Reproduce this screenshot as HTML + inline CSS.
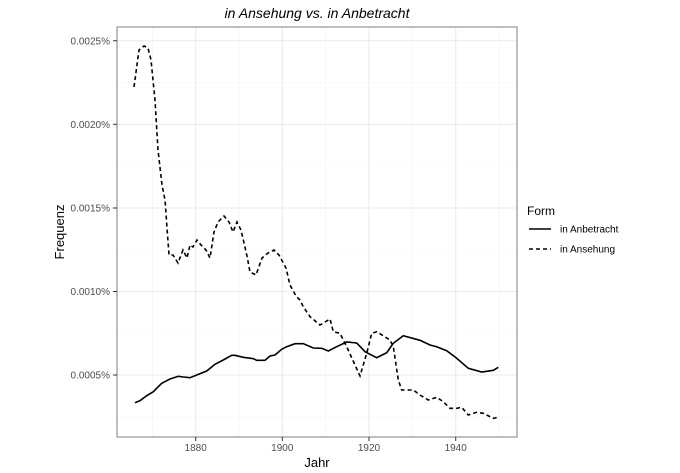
<!DOCTYPE html>
<html><head><style>body{margin:0;background:#fff}svg{display:block}text{font-family:"Liberation Sans",sans-serif}</style></head><body>
<svg width="680" height="473" viewBox="0 0 680 473">
<rect width="680" height="473" fill="#fff"/>
<g stroke="#f2f2f2" stroke-width="0.6">
<line x1="152.4" y1="27" x2="152.4" y2="437"/><line x1="239" y1="27" x2="239" y2="437"/><line x1="325.7" y1="27" x2="325.7" y2="437"/><line x1="412.3" y1="27" x2="412.3" y2="437"/><line x1="499" y1="27" x2="499" y2="437"/>
<line x1="117" y1="82.5" x2="517" y2="82.5"/><line x1="117" y1="166" x2="517" y2="166"/><line x1="117" y1="250" x2="517" y2="250"/><line x1="117" y1="333" x2="517" y2="333"/><line x1="117" y1="417" x2="517" y2="417"/>
</g>
<g stroke="#ebebeb" stroke-width="1.1">
<line x1="195.7" y1="27" x2="195.7" y2="437"/><line x1="282.3" y1="27" x2="282.3" y2="437"/><line x1="369" y1="27" x2="369" y2="437"/><line x1="455.7" y1="27" x2="455.7" y2="437"/>
<line x1="117" y1="40.7" x2="517" y2="40.7"/><line x1="117" y1="124.3" x2="517" y2="124.3"/><line x1="117" y1="208" x2="517" y2="208"/><line x1="117" y1="291.5" x2="517" y2="291.5"/><line x1="117" y1="375" x2="517" y2="375"/>
</g>
<polyline fill="none" stroke="#000" stroke-width="1.6" points="135,402.7 140,400.7 146.7,395.7 153.3,391.7 161.7,383.3 170,379 178.3,376.3 183.3,377 190,377.7 196.7,375 206.7,371 215,364.3 223.3,360 231.7,355.3 235,355.3 243.3,357.3 253.3,358.7 256.7,360.3 265,360.3 270,356 275,355 281.7,349.3 286.7,346.7 295,343.7 303.3,343.7 313.3,348 321.7,348.3 328.3,351 336.7,346.7 346.7,342 356.7,343 365,351.7 376.7,357.7 386.7,352.7 393.3,343.3 403.3,335.7 420,340.3 430,345 436.7,346.7 446.7,350.7 456.7,358.3 468.3,368.3 481.7,372 493.3,370.3 498.3,367.3"/>
<polyline fill="none" stroke="#000" stroke-width="1.6" stroke-dasharray="4,3" points="134,87 139,50 144,46 148,48 151,60 155,100 158,150 162,185 165,200 169,255 173,255 178,263 183,250 187,258 190,245 193,247 197,240 201,245 206,250 210,258 214,232 218,222 224,216 229,222 233,232 237,222 241,230 247,256 250,272 256,275 262,258 268,253 274,250 279,255 286,268 290,285 296,296 300,300 303.3,306.7 310,316.7 320,325 330,319 333.3,331.7 340,333.3 346.7,346.7 360,376 366.7,353.3 371.7,333.3 376.7,331.7 390,340 393.3,346.7 398.3,380 401.7,390 413.3,390 420,395 428.3,400 436.7,397.3 443.3,401.7 450,408.3 456.7,408.3 461.7,407.3 468.3,415 476.7,412.3 483.3,413.3 493.3,418.3 498.3,417.3"/>
<rect x="117" y="27" width="400" height="410" fill="none" stroke="#7f7f7f" stroke-width="1"/>
<g stroke="#333" stroke-width="1">
<line x1="113" y1="40.7" x2="117" y2="40.7"/><line x1="113" y1="124.3" x2="117" y2="124.3"/><line x1="113" y1="208" x2="117" y2="208"/><line x1="113" y1="291.5" x2="117" y2="291.5"/><line x1="113" y1="375" x2="117" y2="375"/>
<line x1="195.7" y1="437" x2="195.7" y2="441"/><line x1="282.3" y1="437" x2="282.3" y2="441"/><line x1="369" y1="437" x2="369" y2="441"/><line x1="455.7" y1="437" x2="455.7" y2="441"/>
</g>
<g font-size="10" fill="#4d4d4d" text-anchor="end">
<text x="110" y="44.5">0.0025%</text><text x="110" y="128">0.0020%</text><text x="110" y="211.5">0.0015%</text><text x="110" y="295">0.0010%</text><text x="110" y="378.5">0.0005%</text>
</g>
<g font-size="10" fill="#4d4d4d" text-anchor="middle">
<text x="195.7" y="451">1880</text><text x="282.3" y="451">1900</text><text x="369" y="451">1920</text><text x="455.7" y="451">1940</text>
</g>
<text x="317" y="467" font-size="13" text-anchor="middle">Jahr</text>
<text transform="translate(64,232) rotate(-90)" font-size="13" text-anchor="middle">Frequenz</text>
<text x="317" y="18" font-size="14" font-style="italic" text-anchor="middle">in Ansehung vs. in Anbetracht</text>
<text x="527" y="215" font-size="12">Form</text>
<line x1="529" y1="229" x2="551" y2="229" stroke="#000" stroke-width="1.6"/>
<line x1="529" y1="249" x2="551" y2="249" stroke="#000" stroke-width="1.6" stroke-dasharray="4,3"/>
<text x="560" y="232.5" font-size="10">in Anbetracht</text>
<text x="560" y="252.5" font-size="10">in Ansehung</text>
</svg>
</body></html>
